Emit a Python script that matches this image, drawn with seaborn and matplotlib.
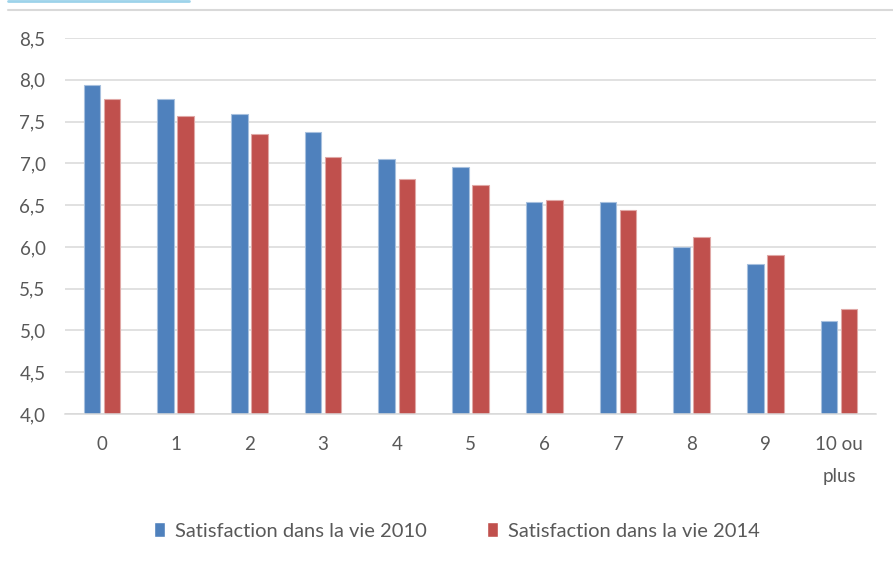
import matplotlib
matplotlib.use("Agg")
import matplotlib.pyplot as plt
from matplotlib.lines import Line2D
from matplotlib.ticker import FuncFormatter, MultipleLocator
import seaborn as sns
import pandas as pd

categories = ["0", "1", "2", "3", "4", "5", "6", "7", "8", "9", "10 ou\nplus"]
sat_2010 = [7.94, 7.77, 7.59, 7.37, 7.05, 6.96, 6.54, 6.54, 6.00, 5.80, 5.11]
sat_2014 = [7.77, 7.57, 7.35, 7.08, 6.81, 6.74, 6.56, 6.44, 6.12, 5.90, 5.26]
series_names = ["Satisfaction dans la vie 2010", "Satisfaction dans la vie 2014"]
colors = ["#4F81BD", "#C0504D"]
edge_colors = ["#A7C0DE", "#E0A8A6"]

df = pd.DataFrame({
    "cat": categories * 2,
    "val": sat_2010 + sat_2014,
    "serie": [series_names[0]] * len(categories) + [series_names[1]] * len(categories),
})

sns.set_theme(style="white")
plt.rcParams["font.family"] = ["Lato", "DejaVu Sans"]

fig = plt.figure(figsize=(8.93, 5.63), dpi=100)
ax = fig.add_axes([65 / 893, 1 - 414 / 563, (876 - 65) / 893, (414 - 38) / 563])

sns.barplot(data=df, x="cat", y="val", hue="serie", palette=colors, saturation=1,
            width=0.544, gap=0.176, ax=ax, legend=True, errorbar=None)

# light outline on bars, bars start at the axis floor
for i, cont in enumerate(ax.containers):
    for p in cont:
        p.set_edgecolor(edge_colors[i])
        p.set_linewidth(0.8)
        p.set_y(4.0)
        p.set_height(p.get_height() - 4.0)

ax.set_ylim(4.0, 8.5)
ax.set_xlim(-0.5, len(categories) - 0.5)
ax.yaxis.set_major_locator(MultipleLocator(0.5))
ax.yaxis.set_major_formatter(FuncFormatter(lambda v, p: f"{v:.1f}".replace(".", ",")))
ax.grid(axis="y", color="#D9D9D9", linewidth=1.1)
ax.set_axisbelow(True)
for s in ["left", "right", "top"]:
    ax.spines[s].set_visible(False)
ax.spines["bottom"].set_color("#D9D9D9")
ax.spines["bottom"].set_linewidth(1.1)
ax.set_xlabel("")
ax.set_ylabel("")
ax.tick_params(axis="both", length=0, colors="#595959", labelsize=13.5)
ax.tick_params(axis="y", pad=14)
ax.tick_params(axis="x", pad=16)
for t in ax.get_xticklabels():
    t.set_linespacing(2.05)
    t.set_verticalalignment("top")

leg = ax.legend(loc="center", bbox_to_anchor=(457 / 893, 1 - 531 / 563),
                bbox_transform=fig.transFigure, ncol=2, frameon=False,
                fontsize=14.5, handlelength=0.55, handleheight=0.7,
                handletextpad=0.5, columnspacing=3.0)
for t in leg.get_texts():
    t.set_color("#595959")

# top decorations
fig.add_artist(Line2D([8 / 893, 189 / 893], [1 - 1 / 563, 1 - 1 / 563],
                      color="#9DD3EA", linewidth=2, transform=fig.transFigure))
fig.add_artist(Line2D([8 / 893, 1.0], [1 - 10 / 563, 1 - 10 / 563],
                      color="#D9D9D9", linewidth=1.5, transform=fig.transFigure))

fig.savefig("out.png", dpi=100)
